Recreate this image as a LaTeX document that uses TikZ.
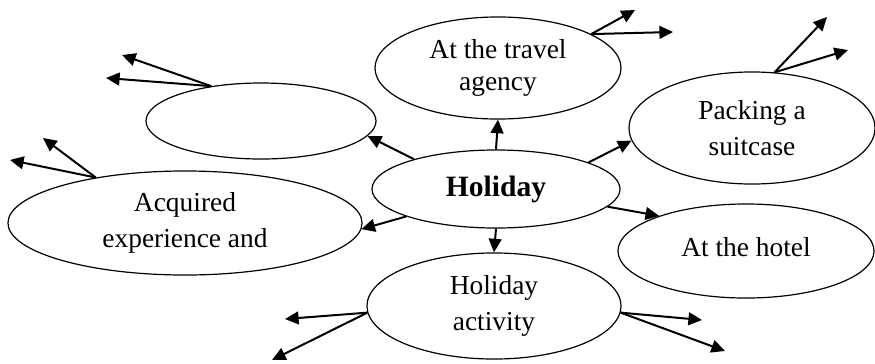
\documentclass[tikz,border=0pt]{standalone}
\usepackage{fontspec}
\setmainfont{Liberation Serif}
\usetikzlibrary{shapes.geometric,arrows.meta}
\tikzset{
  ell/.style 2 args={ellipse, draw, line width=0.03cm, inner sep=0pt,
    minimum width=#1*0.05cm, minimum height=#2*0.05cm, align=center,
    font=\fontsize{19.5}{23}\selectfont},
  conn/.style={line width=0.05cm, -{Triangle[length=0.34cm,width=0.32cm]}}
}
\begin{document}
\begin{tikzpicture}[x=0.025cm, y=-0.025cm]
            \useasboundingbox (0,0) rectangle (875,363);
            
            % Marking ellipses
            \node [ell={123}{51}] (agency) at (498,68) {At the travel\\agency};
            \node [ell={124}{39}, font=\fontsize{21}{23}\selectfont\bfseries] (holiday) at (496,189) {Holiday};
            \node [ell={115}{38}] (blank) at (261,121) {};
            \node [ell={177}{52}] (acquired) at (185,223) {Acquired\\[3pt]experience and};
            \node [ell={123}{56}] (packing) at (752,128) {Packing a\\[3pt]suitcase};
            \node [ell={128}{47}] (hotel) at (746,251) {\raisebox{0.2cm}{At the hotel}};
            \node [ell={127}{53}] (activity) at (494,306) {Holiday\\[2pt]activity};
            
            % Free ends
            \coordinate (agencyA) at (635,10);
            \coordinate (agencyB) at (673,32);
            \coordinate (packingA) at (827,17);
            \coordinate (packingB) at (848,50);
            \coordinate (blankA) at (122,55);
            \coordinate (blankB) at (106,78);
            \coordinate (acquiredA) at (43,138);
            \coordinate (acquiredB) at (10,160);
            \coordinate (activityA) at (285,319);
            \coordinate (activityB) at (272,360);
            \coordinate (activityC) at (702,320);
            \coordinate (activityD) at (725,351);
            
            % Drawing arrows from holiday
            \draw [conn] (holiday.north) -- (agency.south);
            \draw [conn] (holiday.south) -- (activity.north);
            \draw [conn] (holiday.160) -- (blank.-8);
            \draw [conn] (holiday.-163) -- (acquired.-2);
            \draw [conn] (holiday.16) -- (packing.-174);
            \draw [conn] (holiday.-9) -- (hotel.158);
            
            % Drawing outer arrows
            \draw [conn] (agency.20) -- (agencyA);
            \draw [conn] (agency.20) -- (agencyB);
            \draw [conn] (packing.68) -- (packingA);
            \draw [conn] (packing.68) -- (packingB);
            \draw [conn] (blank.145) -- (blankA);
            \draw [conn] (blank.145) -- (blankB);
            \draw [conn] (acquired.153) -- (acquiredA);
            \draw [conn] (acquired.153) -- (acquiredB);
            \draw [conn] (activity.-177) -- (activityA);
            \draw [conn] (activity.-177) -- (activityB);
            \draw [conn] (activity.-3) -- (activityC);
            \draw [conn] (activity.-3) -- (activityD);
\end{tikzpicture}
\end{document}
